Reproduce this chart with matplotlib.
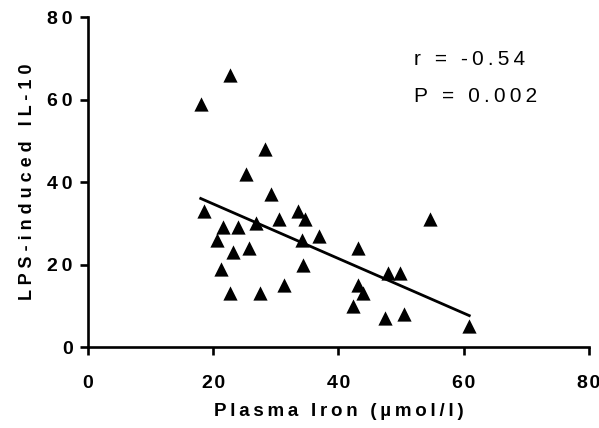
import numpy as np
import matplotlib
matplotlib.use("Agg")
import matplotlib.pyplot as plt

plt.rcParams["font.family"] = ["Liberation Sans", "DejaVu Sans"]

# plasma iron (umol/l) vs LPS-induced IL-10
iron = [18.0, 22.7, 28.2, 25.3, 29.3, 18.6, 21.5, 24.0, 26.8, 30.5, 33.5,
        34.6, 20.6, 36.9, 34.2, 23.1, 25.7, 21.3, 34.4, 22.7, 27.5, 31.3,
        43.2, 43.2, 43.9, 42.4, 54.7, 47.9, 49.8, 47.4, 50.5, 60.9]
il10 = [59, 66, 48, 42, 37, 33, 29, 29, 30, 31, 33,
        31, 26, 27, 26, 23, 24, 19, 20, 13, 13, 15,
        24, 15, 13, 10, 31, 18, 18, 7, 8, 5]
r_text = "r = -0.54"
p_text = "P = 0.002"
x_ticks = [0, 20, 40, 60, 80]
y_ticks = [0, 20, 40, 60, 80]


def spaced(s, sp="\u2009"):
    # widen the letter spacing by putting a narrow space between characters
    return sp.join(s)


x = np.array(iron)
y = np.array(il10)
slope, intercept = np.polyfit(x, y, 1)
xs = np.array([x.min(), x.max()])

fig = plt.figure(figsize=(5.99, 4.28), dpi=100)
ax = fig.add_axes([0.147, 0.189, 0.836, 0.771])

ax.scatter(x, y, marker="^", s=105, color="black", zorder=3, linewidths=0)
ax.plot(xs, slope * xs + intercept, color="black", lw=2, zorder=2)

ax.set_xlim(0, 80)
ax.set_ylim(0, 80)
ax.set_xticks(x_ticks)
ax.set_yticks(y_ticks)
ax.set_xticklabels([spaced(str(t), "\u200a") for t in x_ticks], fontsize=14, fontweight="bold")
ax.set_yticklabels([spaced(str(t)) for t in y_ticks], fontsize=14, fontweight="bold")
for side in ["top", "right"]:
    ax.spines[side].set_visible(False)
for side in ["left", "bottom"]:
    ax.spines[side].set_linewidth(1.9)
ax.tick_params(direction="out", length=6, width=1.9)
ax.tick_params(axis="x", pad=14)
ax.tick_params(axis="y", pad=5)

ax.set_xlabel(spaced("Plasma Iron (µmol/l)"), fontsize=13.5, fontweight="bold", labelpad=8)
ax.set_ylabel(spaced("LPS-induced IL-10", " "), fontsize=13, fontweight="bold", labelpad=8)

ax.text(0.65, 0.855, spaced(r_text), transform=ax.transAxes, fontsize=15, va="baseline")
ax.text(0.65, 0.742, spaced(p_text), transform=ax.transAxes, fontsize=15, va="baseline")

fig.savefig("out.png", dpi=100)
